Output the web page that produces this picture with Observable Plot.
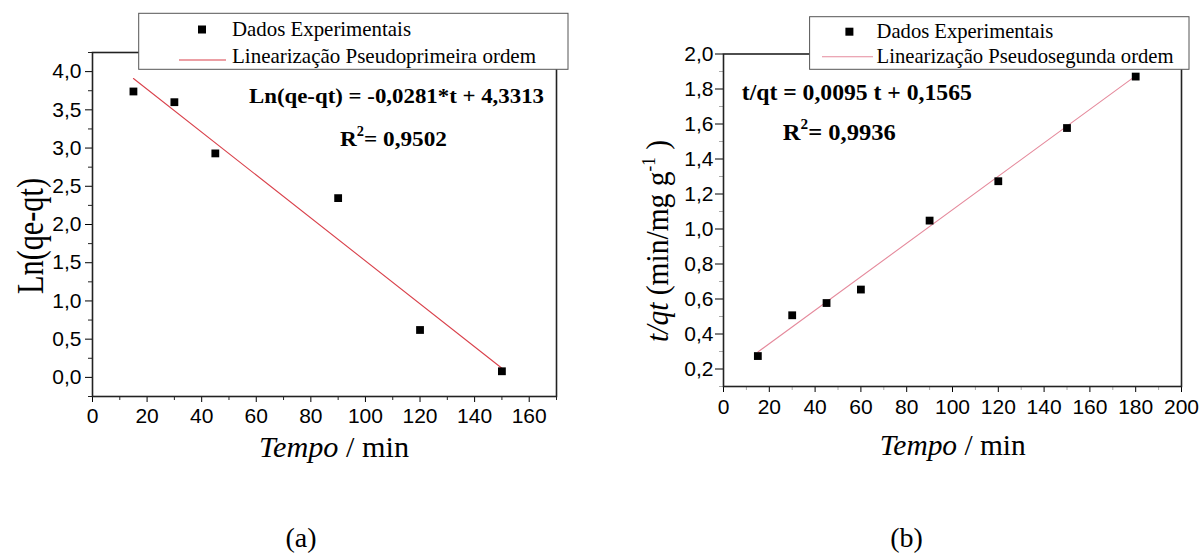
<!DOCTYPE html>
<html><head><meta charset="utf-8">
<script src="https://cdn.jsdelivr.net/npm/d3@7"></script>
<script src="https://cdn.jsdelivr.net/npm/@observablehq/plot@0.6"></script>
<style>
body{margin:0;background:#fff;}
#wrap{position:relative;width:1200px;height:554px;overflow:hidden;background:#fff;}
#wrap svg{position:absolute;top:0;overflow:visible;}
</style></head><body><div id="wrap"></div>
<script>
// ---------- data: panel (a) pseudo-first order ----------
const timeA = [15, 30, 45, 90, 120, 150];
const lnA = [3.74, 3.60, 2.93, 2.345, 0.62, 0.08];
const fitTimeA = [15, 150];
const fitValA = [3.91, 0.12];
const xMajorA = [0, 20, 40, 60, 80, 100, 120, 140, 160];
const xMinorA = [10, 30, 50, 70, 90, 110, 130, 150, 170];
const yMajorA = [0, 0.5, 1, 1.5, 2, 2.5, 3, 3.5, 4];
const yMinorA = [-0.25, 0.25, 0.75, 1.25, 1.75, 2.25, 2.75, 3.25, 3.75, 4.25];

// ---------- data: panel (b) pseudo-second order ----------
const timeB = [15, 30, 45, 60, 90, 120, 150, 180];
const tqB = [0.274, 0.507, 0.577, 0.654, 1.048, 1.273, 1.577, 1.871];
const fitTimeB = [15, 180];
const fitValB = [0.297, 1.875];
const xMajorB = [0, 20, 40, 60, 80, 100, 120, 140, 160, 180, 200];
const xMinorB = [10, 30, 50, 70, 90, 110, 130, 150, 170, 190];
const yMajorB = [0.2, 0.4, 0.6, 0.8, 1.0, 1.2, 1.4, 1.6, 1.8, 2.0];
const yMinorB = [0.1, 0.3, 0.5, 0.7, 0.9, 1.1, 1.3, 1.5, 1.7, 1.9];

// ---------- texts ----------
const legendPoints = "Dados Experimentais";
const legendLineA = "Linearização Pseudoprimeira ordem";
const legendLineB = "Linearização Pseudosegunda ordem";
const eqA = "Ln(qe-qt) = -0,0281*t + 4,3313";
const r2A = "= 0,9502";
const eqB = "t/qt = 0,0095 t + 0,1565";
const r2B = "= 0,9936";

const SANS = "Liberation Sans, Arial, sans-serif";
const SERIF = "Liberation Serif";
const comma = d => d3.format(".1f")(d).replace(".", ",");

function panel(cfg) {
  const pts = cfg.t.map((t, i) => ({t, v: cfg.v[i]}));
  const fit = cfg.ft.map((t, i) => ({t, v: cfg.fv[i]}));
  return Plot.plot({
    width: 600, height: 554,
    marginLeft: cfg.m[0], marginRight: cfg.m[1], marginTop: cfg.m[2], marginBottom: cfg.m[3],
    style: {background: "transparent", fontFamily: SANS, color: "#000", overflow: "visible"},
    x: {domain: cfg.xd},
    y: {domain: cfg.yd},
    marks: [
      Plot.axisX({ticks: cfg.xMinor, tickSize: 4, tickFormat: () => "", label: null, stroke: cfg.minorColor}),
      Plot.axisX({ticks: cfg.xMajor, tickSize: 6, tickPadding: cfg.xPad, fontSize: 21, tickFormat: d => String(d), label: null}),
      Plot.axisY({ticks: cfg.yMinor, tickSize: 4, tickFormat: () => "", label: null, stroke: cfg.minorColor}),
      Plot.axisY({ticks: cfg.yMajor, tickSize: cfg.yTick, tickPadding: cfg.yPad, fontSize: 21, tickFormat: comma, label: null}),
      Plot.frame({stroke: "#222", strokeWidth: 1.6}),
      Plot.line(fit, {x: "t", y: "v", stroke: cfg.lineColor, strokeWidth: 1.1}),
      Plot.dot(pts, {x: "t", y: "v", symbol: "square", r: 4.4, fill: "#000", stroke: "none"})
    ]
  });
}

function txt(sel, s, x, y, o = {}) {
  const t = sel.append("text").attr("x", x).attr("y", y)
    .style("font-family", SERIF)
    .style("font-size", (o.size || 20) + "px")
    .style("font-weight", o.weight || "normal").attr("fill", "#000")
    .attr("text-anchor", o.anchor || "start");
  if (o.len) t.attr("textLength", o.len).attr("lengthAdjust", "spacingAndGlyphs");
  if (s != null) t.text(s);
  return t;
}

function legend(sel, L, lineText, lineColor) {
  const g = sel.append("g");
  g.append("rect").attr("x", L.x).attr("y", L.y).attr("width", L.w).attr("height", L.h)
    .attr("fill", "#fff").attr("stroke", "#555").attr("stroke-width", 1);
  g.append("rect").attr("x", L.mx - 4).attr("y", L.my - 4).attr("width", 8).attr("height", 8).attr("fill", "#000");
  txt(g, legendPoints, L.tx, L.b1, {size: 21, len: L.l1});
  g.append("line").attr("x1", L.lx1).attr("x2", L.lx2).attr("y1", L.ly).attr("y2", L.ly)
    .attr("stroke", lineColor).attr("stroke-width", 1.1);
  txt(g, lineText, L.tx, L.b2, {size: 21, len: L.l2});
}

function r2(sel, rest, x, y, size, len) {
  const t = txt(sel, null, x, y, {size, weight: "bold", len});
  t.append("tspan").text("R");
  t.append("tspan").style("font-size", (size * 0.62) + "px").attr("dy", -size * 0.45).text("2");
  t.append("tspan").attr("dy", size * 0.45).text(rest);
}

function xLabel(sel, x, y, len) {
  const t = txt(sel, null, x, y, {size: 30, len});
  t.append("tspan").style("font-style", "italic").text("Tempo");
  t.append("tspan").text(" / min");
}

const wrap = document.getElementById("wrap");

// ---------- panel (a) ----------
const A = panel({
  t: timeA, v: lnA, ft: fitTimeA, fv: fitValA,
  m: [92, 44, 52, 158], xd: [0, 170], yd: [-0.25, 4.25],
  xMajor: xMajorA, xMinor: xMinorA, yMajor: yMajorA, yMinor: yMinorA,
  xPad: 6, yTick: 7, yPad: 4, minorColor: "#222", lineColor: "#d9414b"
});
A.style.left = "0px";
wrap.appendChild(A);
const sa = d3.select(A);
legend(sa, {x: 138.7, y: 13.3, w: 429.3, h: 56, mx: 202, my: 29.5, tx: 232, b1: 36, l1: 179,
  lx1: 179, lx2: 226, ly: 60, b2: 63, l2: 304}, legendLineA, "#d9414b");
txt(sa, eqA, 249, 103, {size: 22, weight: "bold", len: 295});
r2(sa, r2A, 340, 146, 22, 107);
xLabel(sa, 259, 457, 150);
txt(sa, "Ln(qe-qt)", 0, 0, {size: 38, anchor: "middle", len: 116}).attr("transform", "translate(43,236) rotate(-90)");
txt(sa, "(a)", 301, 547, {size: 28, anchor: "middle"});

// ---------- panel (b) ----------
const B = panel({
  t: timeB, v: tqB, ft: fitTimeB, fv: fitValB,
  m: [123, 19, 53.5, 168], xd: [0, 200], yd: [0.1, 2.0],
  xMajor: xMajorB, xMinor: xMinorB, yMajor: yMajorB, yMinor: yMinorB,
  xPad: 7, yTick: 8, yPad: 2, minorColor: "#aaa", lineColor: "#e58a9c"
});
B.style.left = "600px";
wrap.appendChild(B);
const sb = d3.select(B);
legend(sb, {x: 209.6, y: 16.7, w: 379.4, h: 52.6, mx: 249.4, my: 31.7, tx: 276.6, b1: 37.7, l1: 176.6,
  lx1: 222, lx2: 273, ly: 56.7, b2: 63, l2: 297}, legendLineB, "#e58a9c");
txt(sb, eqB, 141.8, 100, {size: 24, weight: "bold", len: 230});
r2(sb, r2B, 182.8, 140, 24, 113);
xLabel(sb, 279.7, 455, 146);
{
  const t = txt(sb, null, 0, 0, {size: 31, anchor: "middle", len: 202}).attr("transform", "translate(68,241) rotate(-90)");
  t.append("tspan").style("font-style", "italic").text("t/qt");
  t.append("tspan").text(" (min/mg g");
  t.append("tspan").style("font-size", "18px").attr("dy", -13).text("-1");
  t.append("tspan").attr("dy", 13).text(" )");
}
txt(sb, "(b)", 306.5, 547, {size: 28, anchor: "middle"});
</script></body></html>
